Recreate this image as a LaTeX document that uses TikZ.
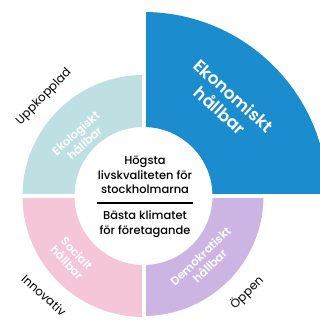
\documentclass[tikz,border=0pt]{standalone}
\usepackage{fontspec}
\setmainfont{Poppins}
\newfontfamily\midfont{Poppins Medium}
\newfontfamily\semifont{Poppins SemiBold}
\definecolor{ekonomi}{RGB}{27,140,205}
\definecolor{ekologi}{RGB}{191,224,227}
\definecolor{social}{RGB}{244,198,216}
\definecolor{demokrati}{RGB}{205,181,227}
\begin{document}
\begin{tikzpicture}[x=1bp,y=1bp,
  segtext/.style={text=white,font=\semifont\fontsize{11.5}{13.5}\selectfont,align=center,inner sep=0pt},
  bigtext/.style={segtext,font=\semifont\fontsize{17}{20}\selectfont},
  ringtext/.style={text=black,font=\fontsize{12}{13}\selectfont,inner sep=0pt},
  midtext/.style={font=\midfont\fontsize{11.5}{14.5}\selectfont,align=center,inner sep=0pt}]
  \clip (0bp,0bp) rectangle (320bp,320bp);
  \useasboundingbox (0bp,0bp) rectangle (320bp,320bp);
  \coordinate (mid) at (143.5bp,124bp);
%%
  % Sector: Ekonomiskt hållbar
  \fill [ekonomi] (mid) ++(0:69bp) arc [start angle=0,end angle=90,radius=69bp]
    -- ++(0bp,115bp) arc [start angle=90,end angle=0,radius=184bp] -- cycle;
  % Sector: Ekologiskt hållbar
  \fill [ekologi] (mid) ++(90:69bp) arc [start angle=90,end angle=180,radius=69bp]
    -- ++(-52bp,0bp) arc [start angle=180,end angle=90,radius=121bp] -- cycle;
  % Sector: Socialt hållbar
  \fill [social] (mid) ++(180:69bp) arc [start angle=180,end angle=270,radius=69bp]
    -- ++(0bp,-52bp) arc [start angle=270,end angle=180,radius=121bp] -- cycle;
  % Sector: Demokratiskt hållbar
  \fill [demokrati] (mid) ++(270:69bp) arc [start angle=270,end angle=360,radius=69bp]
    -- ++(51bp,0bp) arc [start angle=360,end angle=270,radius=120bp] -- cycle;
  % Gaps
  \draw [white,line width=4bp] (mid) -- ++(0bp,190bp);
  \draw [white,line width=4bp] (mid) -- ++(0bp,-190bp);
  \draw [white,line width=4bp] (mid) -- ++(-190bp,0bp);
  \draw [white,line width=4bp] (mid) -- ++(190bp,0bp);
%%
  % Node: sector labels
  \node [bigtext,rotate=-42] (ekonomi) at (227bp,217bp) {Ekonomiskt\\hållbar};
  \node [segtext,rotate=42] (ekologi) at (80bp,182bp) {Ekologiskt\\hållbar};
  \node [segtext,rotate=-47] (social) at (72bp,62bp) {Socialt\\hållbar};
  \node [segtext,rotate=44] (demokrati) at (205bp,59bp) {Demokratiskt\\hållbar};
  % Node: outer labels
  \node [ringtext,rotate=46] (uppkopplad) at (44bp,223bp) {Uppkopplad};
  \node [ringtext,rotate=-42] (innovativ) at (44bp,25bp) {Innovativ};
  \node [ringtext,rotate=45] (oppen) at (247bp,27bp) {Öppen};
  % Node: centre
  \node [midtext] (hogsta) at (145bp,145bp) {Högsta\\livskvaliteten för\\stockholmarna};
  \node [midtext] (basta) at (145bp,96bp) {Bästa klimatet\\för företagande};
  \coordinate (rule-l) at (97bp,117bp);
  \coordinate (rule-r) at (193bp,117bp);
  \draw [line width=1.2bp] (rule-l) -- (rule-r);
%
\end{tikzpicture}
\end{document}
